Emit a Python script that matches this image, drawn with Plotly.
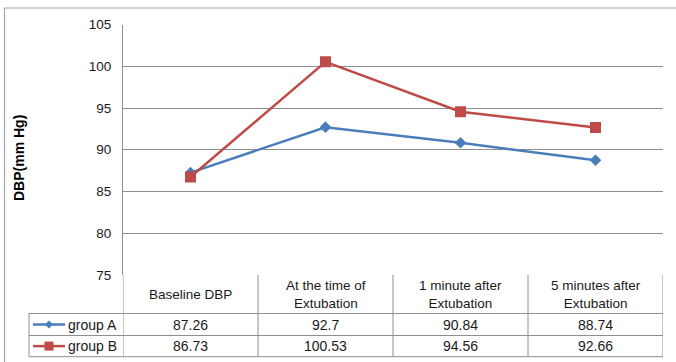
import plotly.graph_objects as go

# Diastolic blood pressure at each time point
categories = ["Baseline DBP", "At the time of<br>Extubation",
              "1 minute after<br>Extubation", "5 minutes after<br>Extubation"]
series_names = ["group A", "group B"]
group_a = [87.26, 92.7, 90.84, 88.74]
group_b = [86.73, 100.53, 94.56, 92.66]
y_ticks = [75, 80, 85, 90, 95, 100, 105]
y_title = "DBP(mm Hg)"

W, H = 676, 362
BLUE = "#4A7EBB"
RED = "#BE4B48"
GRID = "#8E8E8E"
FONT = "Liberation Sans, Arial, sans-serif"
TXT = "#1A1A1A"


def px(x):
    return x / W


def py(y):
    return 1 - y / H


# plot area and data-table geometry (pixels)
PL, PR, PT, PB = 123, 663, 24.5, 275
ROW_A, ROW_B, TBL_END = 313.5, 335.5, 356.7
KEY_L = 29

fig = go.Figure()
fig.add_trace(go.Scatter(
    x=list(range(len(categories))), y=group_a, mode="lines+markers", name=series_names[0],
    line=dict(color=BLUE, width=2.5),
    marker=dict(symbol="diamond", size=9, color=BLUE),
))
fig.add_trace(go.Scatter(
    x=list(range(len(categories))), y=group_b, mode="lines+markers", name=series_names[1],
    line=dict(color=RED, width=2.5),
    marker=dict(symbol="square", size=11, color=RED),
))

shapes = []
annotations = []

# outer chart frame
shapes.append(dict(type="rect", xref="paper", yref="paper",
                   x0=px(4.5), x1=px(W + 5), y0=py(H + 5), y1=py(8),
                   line=dict(color="#A6A6A6", width=1.2), fillcolor="rgba(0,0,0,0)"))

# table: vertical column separators
n = len(categories)
for i in range(n + 1):
    shapes.append(dict(type="line", xref="x", yref="paper",
                       x0=i - 0.5, x1=i - 0.5, y0=py(TBL_END), y1=py(PB),
                       line=dict(color=GRID, width=1)))
# legend column left border
shapes.append(dict(type="line", xref="paper", yref="paper",
                   x0=px(KEY_L), x1=px(KEY_L), y0=py(TBL_END), y1=py(ROW_A),
                   line=dict(color=GRID, width=1)))
# table: horizontal row separators
for yy in (ROW_A, ROW_B, TBL_END):
    shapes.append(dict(type="line", xref="paper", yref="paper",
                       x0=px(KEY_L), x1=px(PR), y0=py(yy), y1=py(yy),
                       line=dict(color=GRID, width=1)))

# header row labels
for i, c in enumerate(categories):
    annotations.append(dict(x=i, y=py((PB + ROW_A) / 2), xref="x", yref="paper",
                            text=c, showarrow=False, xanchor="center", yanchor="middle",
                            font=dict(family=FONT, size=13.5, color=TXT)))

# value rows with legend keys
rows = [(series_names[0], group_a, BLUE, "diamond", (ROW_A + ROW_B) / 2),
        (series_names[1], group_b, RED, "square", (ROW_B + TBL_END) / 2)]
for name, vals, col, sym, yc in rows:
    for i, v in enumerate(vals):
        annotations.append(dict(x=i, y=py(yc), xref="x", yref="paper",
                                text=str(v), showarrow=False, xanchor="center", yanchor="middle",
                                font=dict(family=FONT, size=14, color=TXT)))
    annotations.append(dict(x=px(66), y=py(yc), xref="paper", yref="paper",
                            text=name, showarrow=False, xanchor="left", yanchor="middle",
                            font=dict(family=FONT, size=14, color=TXT)))
    shapes.append(dict(type="line", xref="paper", yref="paper",
                       x0=px(33), x1=px(65), y0=py(yc), y1=py(yc),
                       line=dict(color=col, width=2.5)))
    cx, cy = 49, yc
    if sym == "diamond":
        r = 4
        path = (f"M {px(cx - r)} {py(cy)} L {px(cx)} {py(cy - r)} "
                f"L {px(cx + r)} {py(cy)} L {px(cx)} {py(cy + r)} Z")
        shapes.append(dict(type="path", xref="paper", yref="paper", path=path,
                           fillcolor=col, line=dict(color=col, width=0)))
    else:
        r = 4.5
        shapes.append(dict(type="rect", xref="paper", yref="paper",
                           x0=px(cx - r), x1=px(cx + r), y0=py(cy + r), y1=py(cy - r),
                           fillcolor=col, line=dict(color=col, width=0)))

# y-axis title
annotations.append(dict(x=px(19), y=py(158), xref="paper", yref="paper",
                        text=f"<b>{y_title}</b>", textangle=-90, showarrow=False,
                        xanchor="center", yanchor="middle",
                        font=dict(family=FONT, size=14, color="#000000")))

fig.update_layout(
    width=W, height=H, autosize=False,
    margin=dict(l=0, r=0, t=0, b=0),
    paper_bgcolor="white", plot_bgcolor="white",
    showlegend=False,
    shapes=shapes, annotations=annotations,
    xaxis=dict(domain=[px(PL), px(PR)], range=[-0.5, n - 0.5],
               showticklabels=False, showgrid=False, zeroline=False,
               showline=False, ticks="", fixedrange=True),
    yaxis=dict(domain=[py(PB), py(PT)], range=[75, 105],
               tickvals=y_ticks, ticktext=[str(t) for t in y_ticks],
               showgrid=True, gridcolor=GRID, gridwidth=1,
               zeroline=False, showline=True, linecolor=GRID, linewidth=1,
               ticks="", ticklabelstandoff=8, automargin=False,
               tickfont=dict(family=FONT, size=13.5, color=TXT),
               fixedrange=True),
)

fig.write_html("out.html")
